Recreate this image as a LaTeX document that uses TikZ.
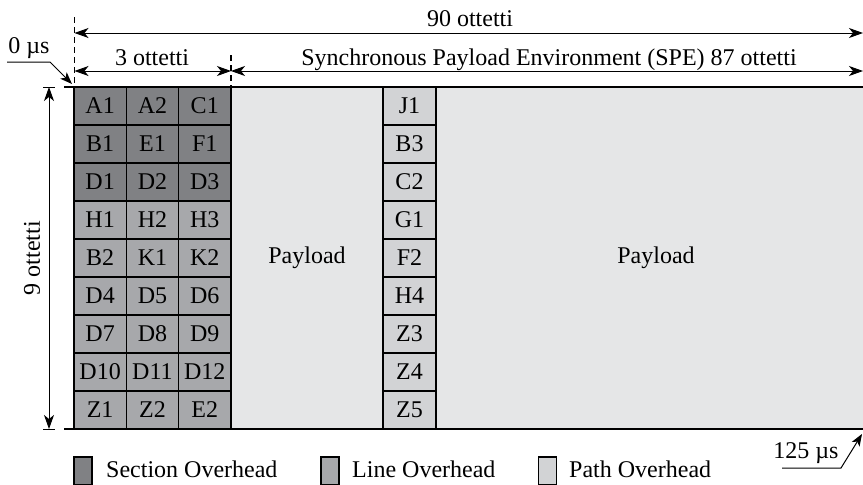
\documentclass[tikz,border=0pt]{standalone}
\usepackage{fontspec}
\setmainfont{Liberation Serif}
\usetikzlibrary{arrows.meta}
\definecolor{secc}{RGB}{128,129,132}
\definecolor{linec}{RGB}{167,168,171}
\definecolor{pathc}{RGB}{210,211,213}
\definecolor{payc}{RGB}{229,230,231}
\begin{document}
\begin{tikzpicture}[x=1pt,y=-1pt,
  font=\fontsize{24}{28}\selectfont,
  >={Stealth[length=14pt,width=10pt,inset=4pt]},
  cellbox/.style={draw=black,line width=1.4pt,minimum width=52.3pt,minimum height=38pt,inner sep=0pt,anchor=center},
  secbox/.style={cellbox,fill=secc},
  linbox/.style={cellbox,fill=linec},
  pthbox/.style={cellbox,fill=pathc,minimum width=53pt},
  paybox/.style={draw=black,line width=1.4pt,fill=payc,inner sep=0pt,minimum height=342pt},
  dim/.style={line width=1pt,<->},
  lbl/.style={inner sep=0pt,anchor=base},
  legbox/.style={draw=black,line width=1.2pt,minimum width=18pt,minimum height=28pt,inner sep=0pt},
  legtxt/.style={inner sep=0pt,anchor=base west}]
\useasboundingbox (0,0) rectangle (863,485);
% payload areas
\node[paybox,minimum width=152pt] (pay1) at (307,258) {Payload};
\node[paybox,minimum width=440pt] (pay2) at (656,258) {Payload};
% overhead cells
\foreach \r/\a/\b/\c/\s in {0/A1/A2/C1/secbox,1/B1/E1/F1/secbox,2/D1/D2/D3/secbox,
  3/H1/H2/H3/linbox,4/B2/K1/K2/linbox,5/D4/D5/D6/linbox,6/D7/D8/D9/linbox,
  7/D10/D11/D12/linbox,8/Z1/Z2/E2/linbox}{
  \node[\s] (c\r-1) at (100.15,106+38*\r) {\a};
  \node[\s] (c\r-2) at (152.45,106+38*\r) {\b};
  \node[\s] (c\r-3) at (204.75,106+38*\r) {\c};
}
\foreach \r/\p in {0/J1,1/B3,2/C2,3/G1,4/F2,5/H4,6/Z3,7/Z4,8/Z5}{
  \node[pthbox] (p\r) at (409.5,106+38*\r) {\p};
}
% top and bottom border lines
\coordinate (tl) at (64,87); \coordinate (tr) at (863,87);
\coordinate (bl) at (64,429); \coordinate (br) at (863,429);
\draw[line width=1.6pt] (tl) -- (tr);
\draw[line width=1.6pt] (bl) -- (br);
% dashed markers
\coordinate (d1t) at (74.5,17); \coordinate (d1b) at (74.5,87);
\coordinate (d2t) at (231,55); \coordinate (d2b) at (231,87);
\draw[line width=1.2pt,dash pattern=on 6pt off 4pt] (d1t) -- (d1b);
\draw[line width=1.2pt,dash pattern=on 6pt off 4pt] (d2t) -- (d2b);
% dimension arrows
\coordinate (a90l) at (74.5,33); \coordinate (a90r) at (863,33);
\draw[dim] (a90l) -- (a90r);
\node[lbl] (l90) at (470,26) {90 ottetti};
\coordinate (a3l) at (74.5,71); \coordinate (a3r) at (231,71);
\draw[dim] (a3l) -- (a3r);
\node[lbl] (l3) at (152,65) {3 ottetti};
\coordinate (aspel) at (231,71); \coordinate (asper) at (863,71);
\draw[dim] (aspel) -- (asper);
\node[lbl] (lspe) at (549,65) {Synchronous Payload Environment (SPE) 87 ottetti};
% vertical 9 ottetti
\coordinate (v9t) at (49,87); \coordinate (v9b) at (49,429);
\draw[dim] (v9t) -- (v9b);
\draw[line width=1pt] (43,87) -- (55,87);
\draw[line width=1pt] (43,429) -- (55,429);
\node[rotate=90,inner sep=0pt] (l9) at (32,258) {9 ottetti};
% time markers
\node[lbl] (t0) at (29,53) {0 µs};
\coordinate (t0a) at (7,62); \coordinate (t0b) at (50,62); \coordinate (t0c) at (72,84);
\draw[line width=1pt,-{Stealth[length=12pt,width=9pt,inset=3pt]}] (t0a) -- (t0b) -- (t0c);
\node[lbl] (t125) at (806,458) {125 µs};
\coordinate (t1a) at (782,468); \coordinate (t1b) at (841,468); \coordinate (t1c) at (862,434);
\draw[line width=1pt,-{Stealth[length=12pt,width=9pt,inset=3pt]}] (t1a) -- (t1b) -- (t1c);
% legend
\node[legbox,fill=secc] (lg1) at (83,471) {};
\node[legtxt] (lt1) at (106,477) {Section Overhead};
\node[legbox,fill=linec] (lg2) at (330,471) {};
\node[legtxt] (lt2) at (352,477) {Line Overhead};
\node[legbox,fill=pathc] (lg3) at (547.5,471) {};
\node[legtxt] (lt3) at (569,477) {Path Overhead};
\end{tikzpicture}
\end{document}
